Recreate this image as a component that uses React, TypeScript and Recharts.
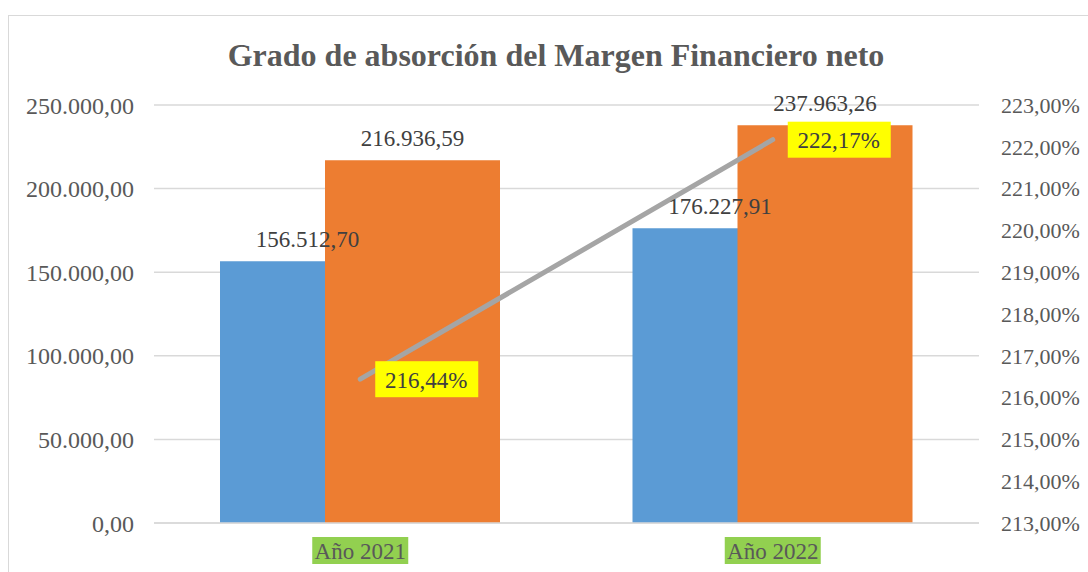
import React from 'react';
import {
  ComposedChart,
  Bar,
  Line,
  XAxis,
  YAxis,
  CartesianGrid,
  LabelList
} from 'recharts';

// Datos
const categories = ['Año 2021', 'Año 2022'];
const serieAzul = [156512.7, 176227.91];
const serieNaranja = [216936.59, 237963.26];
const absorcion = [216.44, 222.17];
const leftTicks = [0, 50000, 100000, 150000, 200000, 250000];
const rightTicks = [213, 214, 215, 216, 217, 218, 219, 220, 221, 222, 223];

const data = categories.map((name, i) => ({
  name,
  azul: serieAzul[i],
  naranja: serieNaranja[i],
  pct: absorcion[i]
}));

const FONT = '"Liberation Serif", "Times New Roman", serif';

const fmtNum = (v: number) => {
  const [int, dec] = v.toFixed(2).split('.');
  return int.replace(/\B(?=(\d{3})+(?!\d))/g, '.') + ',' + dec;
};
const fmtPct = (v: number) => v.toFixed(2).replace('.', ',') + '%';

// etiqueta del eje X con fondo verde
const CategoryTick = ({ x, y, payload }: any) => (
  <g>
    <rect x={x - 48} y={y + 6} width={96} height={27} fill="#92d050" />
    <text
      x={x}
      y={y + 20}
      textAnchor="middle"
      dominantBaseline="central"
      fontFamily={FONT}
      fontSize={23}
      fill="#595959"
    >
      {payload.value}
    </text>
  </g>
);

// etiqueta de la línea con fondo amarillo
const PctLabel = ({ x, y, value }: any) => (
  <g>
    <rect x={x + 15} y={y - 18} width={103} height={36} fill="#ffff00" />
    <text
      x={x + 66}
      y={y + 1}
      textAnchor="middle"
      dominantBaseline="central"
      fontFamily={FONT}
      fontSize={23}
      fill="#404040"
    >
      {fmtPct(value)}
    </text>
  </g>
);

const labelStyle = { fontFamily: FONT, fontSize: 23, fill: '#404040' };

const App: React.FC = () => {
  return (
    <div
      style={{
        position: 'fixed',
        top: 0,
        left: 0,
        width: 1088,
        height: 572,
        overflow: 'hidden',
        background: '#fff'
      }}
    >
      <div
        style={{
          position: 'absolute',
          left: 8,
          top: 15,
          width: 1200,
          height: 700,
          border: '1.5px solid #d9d9d9'
        }}
      />
      <div
        style={{
          position: 'absolute',
          left: 8,
          top: 36,
          width: 1096,
          lineHeight: '38px',
          textAlign: 'center',
          fontFamily: FONT,
          fontWeight: 'bold',
          fontSize: 32,
          color: '#595959'
        }}
      >
        Grado de absorción del Margen Financiero neto
      </div>
      <div style={{ position: 'absolute', left: 0, top: 0 }}>
        <ComposedChart
          width={1088}
          height={572}
          data={data}
          margin={{ top: 105, right: 0, left: 0, bottom: 9 }}
          barGap={-70}
        >
          <CartesianGrid
            yAxisId="left"
            vertical={false}
            stroke="#d9d9d9"
            strokeWidth={1.5}
          />
          <XAxis
            dataKey="name"
            height={40}
            axisLine={{ stroke: '#d9d9d9', strokeWidth: 1.5 }}
            tickLine={false}
            tick={<CategoryTick />}
          />
          <YAxis
            yAxisId="left"
            width={154}
            domain={[0, 250000]}
            ticks={leftTicks}
            tickFormatter={fmtNum}
            axisLine={false}
            tickLine={false}
            tickMargin={14}
            tick={{ fontFamily: FONT, fontSize: 24, fill: '#595959' }}
          />
          <YAxis
            yAxisId="right"
            orientation="right"
            width={109}
            domain={[213, 223]}
            ticks={rightTicks}
            tickFormatter={fmtPct}
            axisLine={false}
            tickLine={false}
            tickMargin={16}
            tick={{ fontFamily: FONT, fontSize: 22, fill: '#595959', textAnchor: 'start' }}
          />
          <Bar
            yAxisId="left"
            dataKey="azul"
            fill="#5b9bd5"
            barSize={175}
            isAnimationActive={false}
          >
            <LabelList
              dataKey="azul"
              position="top"
              offset={14}
              formatter={(v: any) => fmtNum(Number(v))}
              style={labelStyle}
            />
          </Bar>
          <Bar
            yAxisId="left"
            dataKey="naranja"
            fill="#ed7d31"
            barSize={175}
            isAnimationActive={false}
          >
            <LabelList
              dataKey="naranja"
              position="top"
              offset={14}
              formatter={(v: any) => fmtNum(Number(v))}
              style={labelStyle}
            />
          </Bar>
          <Line
            yAxisId="right"
            type="linear"
            dataKey="pct"
            stroke="#a5a5a5"
            strokeWidth={5}
            strokeLinecap="round"
            dot={false}
            activeDot={false}
            isAnimationActive={false}
          >
            <LabelList dataKey="pct" content={<PctLabel />} />
          </Line>
        </ComposedChart>
      </div>
    </div>
  );
};

export default App;
